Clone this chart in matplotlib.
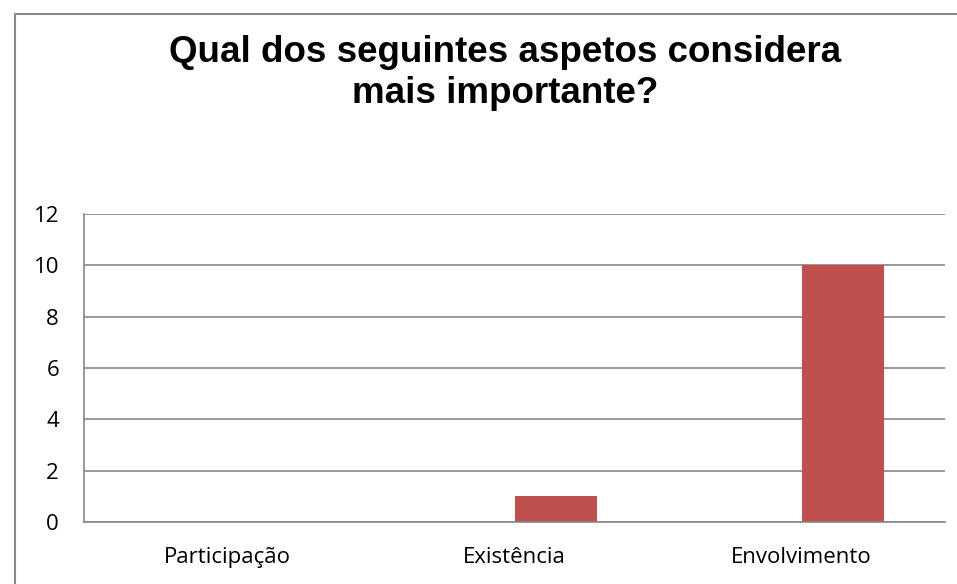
import matplotlib
matplotlib.use("Agg")
import matplotlib.pyplot as plt
from matplotlib.lines import Line2D
import numpy as np

categories = ["Participação", "Existência", "Envolvimento"]
series1 = [0, 0, 0]
series2 = [0, 1, 10]
yticks = [0, 2, 4, 6, 8, 10, 12]
title_lines = ["Qual dos seguintes aspetos considera", "mais importante?"]

W, H = 957, 584
fig = plt.figure(figsize=(W / 100, H / 100), dpi=100)
ax = fig.add_axes([84 / W, (H - 522) / H, (945 - 84) / W, (522 - 214) / H])

x = np.arange(len(categories))
bw = 1 / 3.5
ax.bar(x - bw / 2, series1, width=bw, color="#4F81BD")
ax.bar(x + bw / 2, series2, width=bw, color="#C0504D")

ax.set_xlim(-0.5, len(categories) - 0.5)
ax.set_ylim(0, 12)
ax.set_yticks(yticks)
ax.set_xticks(x)
ax.set_xticklabels(categories)
grid_c = "#868686"
ax.yaxis.grid(True, color=grid_c, linewidth=1.2)
ax.set_axisbelow(True)
for s in ["top", "right"]:
    ax.spines[s].set_visible(False)
for s in ["left", "bottom"]:
    ax.spines[s].set_color(grid_c)
    ax.spines[s].set_linewidth(1.2)
ax.tick_params(axis="both", length=0, labelsize=16, labelcolor="black")
ax.tick_params(axis="y", pad=18)
ax.tick_params(axis="x", pad=18)
for lab in ax.get_xticklabels() + ax.get_yticklabels():
    lab.set_family("Open Sans")

for line, base in zip(title_lines, [62, 103]):
    fig.text(505 / W, 1 - base / H, line, ha="center", va="baseline",
             fontsize=26.5, fontweight="bold", family="Liberation Sans")

fc = "#888888"
fig.add_artist(Line2D([14.5 / W, 1.0], [1 - 13.5 / H, 1 - 13.5 / H], color=fc,
                      linewidth=1.5, transform=fig.transFigure))
fig.add_artist(Line2D([14.5 / W, 14.5 / W], [0, 1 - 13.5 / H], color=fc,
                      linewidth=1.5, transform=fig.transFigure))

fig.savefig("out.png", dpi=100)
